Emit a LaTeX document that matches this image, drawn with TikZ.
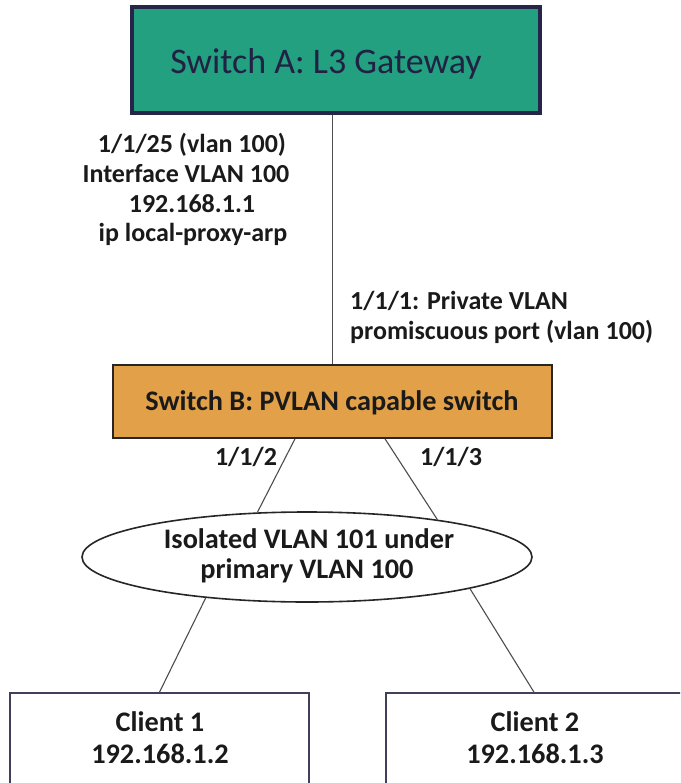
\documentclass[tikz,border=0pt]{standalone}
\usepackage{fontspec}
\setmainfont{Carlito}
\usetikzlibrary{shapes.geometric}

\definecolor{gwteal}{HTML}{22A080}
\definecolor{gwnavy}{HTML}{25254A}
\definecolor{swborange}{HTML}{E2A148}
\definecolor{linkgray}{HTML}{4D4D4D}
\definecolor{inktext}{HTML}{1A1A1A}

\tikzset{
  link/.style={draw=linkgray, line width=1.1pt},
  lbl/.style={font=\fontsize{26}{30}\selectfont\bfseries, text=inktext, inner sep=0pt, anchor=base},
  biglbl/.style={lbl, font=\fontsize{28.3}{30}\selectfont\bfseries},
  bigbox/.style={rectangle, inner sep=0pt},
  clientbox/.style={rectangle, draw=gwnavy!70!gray, line width=1.6pt, fill=white,
    minimum height=100pt, inner sep=0pt},
}

\begin{document}
\begin{tikzpicture}[x=1pt, y=-1pt]
  \useasboundingbox (0,0) rectangle (680,783);
  \clip (0,0) rectangle (680,783);

  % Layer-3 gateway
  \node[bigbox, draw=gwnavy, line width=3.5pt, fill=gwteal,
        minimum width=408pt, minimum height=106pt] (swa) at (336,60) {};
  \node[anchor=base, inner sep=0pt, text=gwnavy!90!black,
        font=\fontsize{36}{40}\selectfont] (swatext) at (326,74) {Switch A: L3 Gateway};

  % PVLAN switch
  \node[bigbox, draw=black!85, line width=1.6pt, fill=swborange,
        minimum width=439pt, minimum height=73pt] (swb) at (332.5,401.5) {};
  \node[biglbl] (swbtext) at (332,410) {Switch B: PVLAN capable switch};

  % Uplink between the two switches
  \draw[link] (swb.north) -- (swb.north |- swa.south);

  % Uplink port notes
  \node[lbl] (up1) at (192,153) {1/1/25 (vlan 100)};
  \node[lbl] (up2) at (186,183) {Interface VLAN 100};
  \node[lbl] (up3) at (192,213) {192.168.1.1};
  \node[lbl] (up4) at (193,242) {ip local-proxy-arp};
  \node[lbl, anchor=base west] (pr1) at (350,309) {1/1/1: Private VLAN};
  \node[lbl, anchor=base west] (pr2) at (350,339) {promiscuous port (vlan 100)};

  % Isolated VLAN
  \node[ellipse, draw=black!85, line width=1.6pt, fill=white,
        minimum width=450pt, minimum height=90pt, inner sep=0pt] (iso) at (307,557) {};
  \node[biglbl] (isot1) at (309,548) {Isolated VLAN 101 under};
  \node[biglbl] (isot2) at (307,578) {primary VLAN 100};

  % Access ports
  \draw[link] ([xshift=-37.5pt]swb.south) -- (iso.138.7);
  \draw[link] ([xshift=52.5pt]swb.south) -- (iso.16.9);
  \node[lbl] (p2) at (246,465) {1/1/2};
  \node[lbl] (p3) at (451,465) {1/1/3};

  % Clients
  \node[clientbox, minimum width=299pt] (c1) at (159.5,743) {};
  \node[clientbox, minimum width=298pt] (c2) at (535,743) {};
  \node[biglbl] (c1a) at (160,731) {Client 1};
  \node[biglbl] (c1b) at (160,763) {192.168.1.2};
  \node[biglbl] (c2a) at (535,731) {Client 2};
  \node[biglbl] (c2b) at (535,763) {192.168.1.3};

  \draw[link] (iso.202.7) -- (c1.north);
  \draw[link] (iso.349.4) -- ([xshift=-1pt]c2.north);
\end{tikzpicture}
\end{document}
